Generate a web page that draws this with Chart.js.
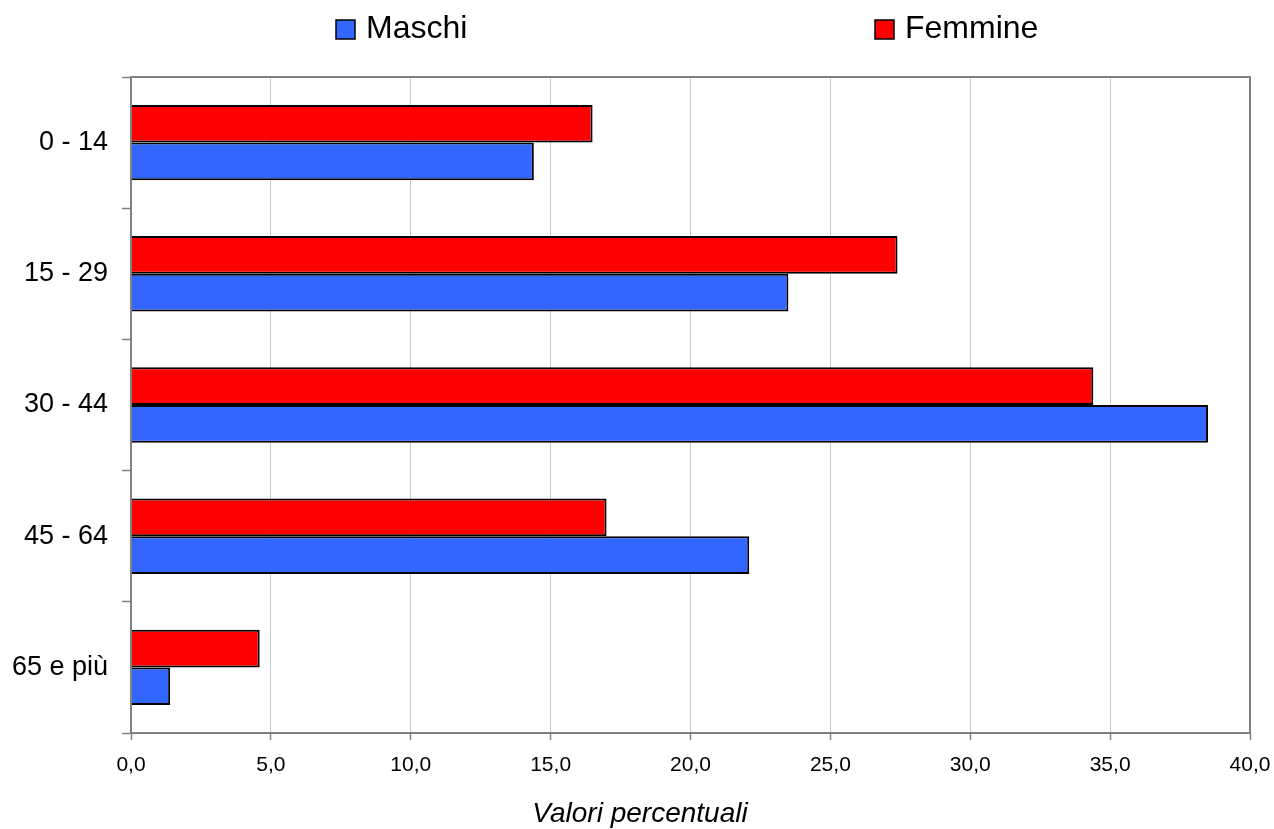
<!DOCTYPE html>
<html><head><meta charset="utf-8">
<script src="https://cdn.jsdelivr.net/npm/chart.js@4/dist/chart.umd.min.js"></script>
<style>html,body{margin:0;padding:0;background:#fff}canvas{display:block}</style>
</head><body>
<canvas id="c" width="1274" height="829"></canvas>
<script>
const categories = ["0 - 14", "15 - 29", "30 - 44", "45 - 64", "65 e più"];
const maschi = [14.4, 23.5, 38.5, 22.1, 1.4];
const femmine = [16.5, 27.4, 34.4, 17.0, 4.6];
const xTickLabels = ["0,0", "5,0", "10,0", "15,0", "20,0", "25,0", "30,0", "35,0", "40,0"];
const seriesNames = ["Maschi", "Femmine"];
const seriesColors = ["#3366FF", "#FF0000"];
const axisTitle = "Valori percentuali";

const FONT = "'Liberation Sans', Arial, sans-serif";
const AXIS_GRAY = "#808080";

const legendPlugin = {
  id: 'customLegend',
  afterDraw(chart) {
    const ctx = chart.ctx;
    const xs = [336, 875];
    ctx.save();
    ctx.font = "32px " + FONT;
    ctx.textBaseline = 'middle';
    ctx.textAlign = 'left';
    seriesNames.forEach((name, i) => {
      const x = xs[i];
      ctx.fillStyle = seriesColors[i];
      ctx.fillRect(x, 20, 19, 19);
      ctx.lineWidth = 1.5;
      ctx.strokeStyle = '#000';
      ctx.strokeRect(x, 20, 19, 19);
      ctx.fillStyle = '#000';
      ctx.fillText(name, x + 30, 29);
    });
    ctx.restore();
  }
};

const framePlugin = {
  id: 'frame',
  afterDatasetsDraw(chart) {
    const {left, top, right, bottom} = chart.chartArea;
    const ctx = chart.ctx;
    ctx.save();
    ctx.strokeStyle = AXIS_GRAY;
    ctx.lineWidth = 2;
    ctx.strokeRect(left, top, right - left, bottom - top);
    ctx.restore();
  }
};

new Chart(document.getElementById('c'), {
  type: 'bar',
  data: {
    labels: categories,
    datasets: [
      { label: seriesNames[1], data: femmine, backgroundColor: seriesColors[1], borderColor: '#000', borderWidth: 2 },
      { label: seriesNames[0], data: maschi, backgroundColor: seriesColors[0], borderColor: '#000', borderWidth: 2 }
    ]
  },
  options: {
    indexAxis: 'y',
    responsive: false,
    animation: false,
    layout: { padding: { top: 77, right: 0, left: 6, bottom: 0 } },
    datasets: { bar: { categoryPercentage: 0.575, barPercentage: 1.0 } },
    plugins: {
      legend: { display: false },
      tooltip: { enabled: false },
      title: {
        display: true, position: 'bottom', text: axisTitle, color: '#000',
        font: { family: FONT, size: 28, style: 'italic', weight: 'normal', lineHeight: 1.0 },
        padding: { top: 0, bottom: 1 }
      }
    },
    scales: {
      x: {
        min: 0, max: 40,
        ticks: {
          stepSize: 5,
          color: '#000',
          font: { family: FONT, size: 21 },
          padding: 13,
          maxRotation: 0,
          callback: (v, i) => xTickLabels[i]
        },
        grid: { color: '#c8c8c8', lineWidth: 1, tickColor: AXIS_GRAY, tickLength: 7, tickWidth: 1.5 },
        border: { color: AXIS_GRAY, width: 2 },
        afterFit: (s) => { s.height = 67; s.paddingLeft = 0; s.paddingRight = 24; }
      },
      y: {
        ticks: { color: '#000', font: { family: FONT, size: 27 }, padding: 14 },
        grid: { drawOnChartArea: false, color: 'transparent', tickColor: AXIS_GRAY, tickLength: 9, tickWidth: 1.5 },
        border: { color: AXIS_GRAY, width: 2 },
        afterFit: (s) => { s.width = 125; s.paddingTop = 0; s.paddingBottom = 0; }
      }
    }
  },
  plugins: [framePlugin, legendPlugin]
});
</script>
</body></html>
